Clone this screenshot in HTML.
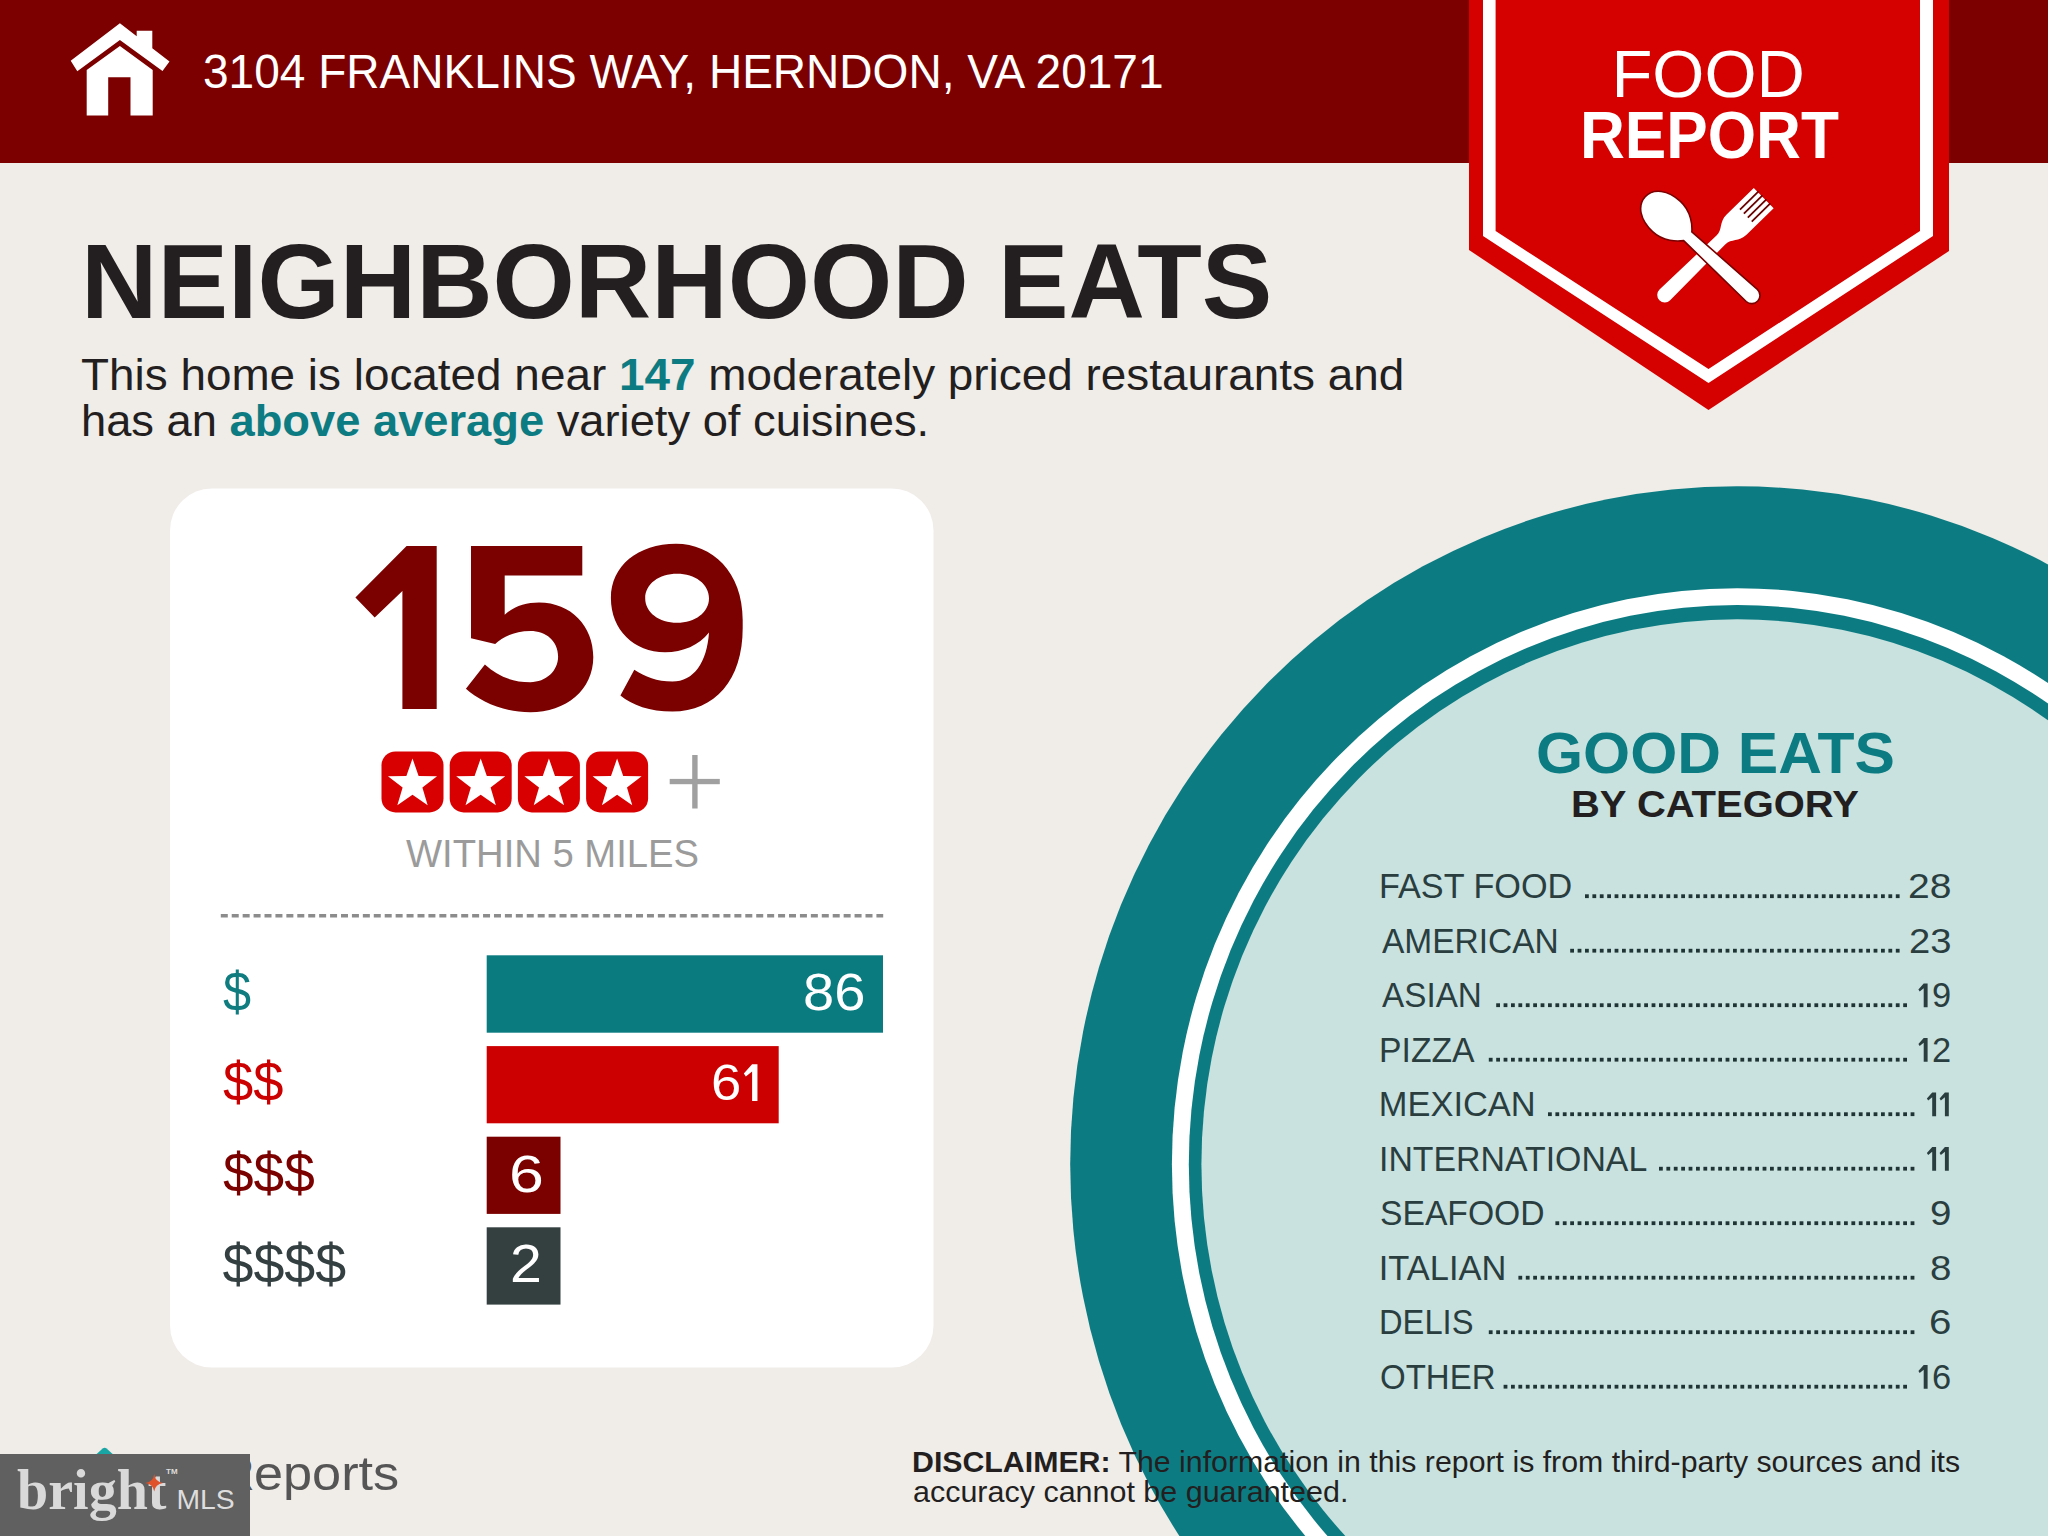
<!DOCTYPE html>
<html><head><meta charset="utf-8">
<style>
html,body{margin:0;padding:0;}
body{width:2048px;height:1536px;overflow:hidden;position:relative;background:#F0ECE8;font-family:"Liberation Sans",sans-serif;}
.t{position:absolute;white-space:nowrap;line-height:1;transform-origin:0 0;}
svg{position:absolute;left:0;top:0;}
</style></head><body>
<svg width="2048" height="1536" viewBox="0 0 2048 1536">
<rect x="0" y="0" width="2048" height="163" fill="#7D0000"/>
<ellipse cx="1737.2" cy="1164.3" rx="667" ry="678" fill="#0C7C82"/>
<ellipse cx="1737.2" cy="1164.3" rx="565.3" ry="576.1" fill="#FFFFFF"/>
<ellipse cx="1737.2" cy="1164.3" rx="548.4" ry="559.2" fill="#0C7C82"/>
<ellipse cx="1737.2" cy="1164.3" rx="535.8" ry="545" fill="#C9E2E0"/>
<rect x="170" y="488.4" width="763.5" height="879.2" rx="42" ry="42" fill="#FFFFFF"/>
<polygon points="1469,0 1949,0 1949,251 1708.5,410 1469,250" fill="#D50000"/>
<path fill="#FFFFFF" fill-rule="evenodd" d="M1483,0 L1933,0 L1933,236 L1708.5,383 L1483,236 Z M1495.6,0 L1920,0 L1920,231 L1708.5,369 L1495.6,231 Z"/>
<g fill="#FFFFFF"><polygon points="119.9,23.3 136.7,36.3 136.7,30.7 152.3,30.7 152.3,48.3 169.5,61.6 162.5,70.9 119.9,40 77.3,71.3 70.7,60.8"/><polygon points="119.9,46 152.7,70 152.7,115.5 130.5,115.5 130.5,77.2 108.2,77.2 108.2,115.5 86.7,115.5 86.7,70"/></g>
<g transform="translate(1659.4,300.2) rotate(-44.4)"><path fill="#FFFFFF" d="M0,0 A7.6,7.6 0 0 1 7.6,-7.6 L86,-6.2 C95,-6.2 97,-14.2 108,-14.2 L146,-14.2 L146,14.2 L108,14.2 C97,14.2 95,6.2 86,6.2 L7.6,7.6 A7.6,7.6 0 0 1 0,0 Z"/><g stroke="#6A0000" stroke-width="1.8"><line x1="121" y1="-8.4" x2="147" y2="-8.4"/><line x1="121" y1="-2.8" x2="147" y2="-2.8"/><line x1="121" y1="2.8" x2="147" y2="2.8"/><line x1="121" y1="8.4" x2="147" y2="8.4"/></g></g>
<g transform="translate(1666.5,216.5) rotate(42.8)"><path fill="#FFFFFF" stroke="#7A0000" stroke-width="1.6" d="M-29,0 C-29,-12 -17,-20.5 0,-20.5 C15,-20.5 25,-11 29,-6 L116.2,-8.2 A8.2,8.2 0 0 1 116.2,8.2 L29,6 C25,11 15,20.5 0,20.5 C-17,20.5 -29,12 -29,0 Z"/></g>
<rect x="381.5" y="751.4" width="62" height="61" rx="14" ry="14" fill="#D80000"/>
<polygon points="412.5,758.5 418.61,775.89 437.04,776.33 422.39,787.51 427.66,805.17 412.5,794.7 397.34,805.17 402.61,787.51 387.96,776.33 406.39,775.89" fill="#FFFFFF"/>
<rect x="449.7" y="751.4" width="62" height="61" rx="14" ry="14" fill="#D80000"/>
<polygon points="480.7,758.5 486.81,775.89 505.24,776.33 490.59,787.51 495.86,805.17 480.7,794.7 465.54,805.17 470.81,787.51 456.16,776.33 474.59,775.89" fill="#FFFFFF"/>
<rect x="517.9" y="751.4" width="62" height="61" rx="14" ry="14" fill="#D80000"/>
<polygon points="548.9,758.5 555.01,775.89 573.44,776.33 558.79,787.51 564.06,805.17 548.9,794.7 533.74,805.17 539.01,787.51 524.36,776.33 542.79,775.89" fill="#FFFFFF"/>
<rect x="586.1" y="751.4" width="62" height="61" rx="14" ry="14" fill="#D80000"/>
<polygon points="617.1,758.5 623.21,775.89 641.64,776.33 626.99,787.51 632.26,805.17 617.1,794.7 601.94,805.17 607.21,787.51 592.56,776.33 610.99,775.89" fill="#FFFFFF"/>
<rect x="669.7" y="778.9" width="50.1" height="5.3" fill="#A0A0A0"/>
<rect x="692.2" y="755" width="5.4" height="53.5" fill="#A0A0A0"/>
<line x1="220.8" y1="915.8" x2="883.2" y2="915.8" stroke="#8C8C8C" stroke-width="3.4" stroke-dasharray="7 3.927"/>
<rect x="486.7" y="955.3" width="396.3" height="77.4" fill="#0A7C80"/>
<rect x="486.7" y="1046.1" width="292" height="77.2" fill="#CC0000"/>
<rect x="486.7" y="1136.7" width="73.8" height="77.2" fill="#7B0000"/>
<rect x="486.7" y="1227.3" width="73.8" height="77.3" fill="#343F40"/>
<rect x="1585" y="894.3" width="3.8" height="3.8" fill="#1F3434"/>
<rect x="1592.4" y="894.3" width="3.8" height="3.8" fill="#1F3434"/>
<rect x="1599.8" y="894.3" width="3.8" height="3.8" fill="#1F3434"/>
<rect x="1607.2" y="894.3" width="3.8" height="3.8" fill="#1F3434"/>
<rect x="1614.6" y="894.3" width="3.8" height="3.8" fill="#1F3434"/>
<rect x="1622" y="894.3" width="3.8" height="3.8" fill="#1F3434"/>
<rect x="1629.4" y="894.3" width="3.8" height="3.8" fill="#1F3434"/>
<rect x="1636.8" y="894.3" width="3.8" height="3.8" fill="#1F3434"/>
<rect x="1644.2" y="894.3" width="3.8" height="3.8" fill="#1F3434"/>
<rect x="1651.6" y="894.3" width="3.8" height="3.8" fill="#1F3434"/>
<rect x="1659" y="894.3" width="3.8" height="3.8" fill="#1F3434"/>
<rect x="1666.4" y="894.3" width="3.8" height="3.8" fill="#1F3434"/>
<rect x="1673.8" y="894.3" width="3.8" height="3.8" fill="#1F3434"/>
<rect x="1681.2" y="894.3" width="3.8" height="3.8" fill="#1F3434"/>
<rect x="1688.6" y="894.3" width="3.8" height="3.8" fill="#1F3434"/>
<rect x="1696" y="894.3" width="3.8" height="3.8" fill="#1F3434"/>
<rect x="1703.4" y="894.3" width="3.8" height="3.8" fill="#1F3434"/>
<rect x="1710.8" y="894.3" width="3.8" height="3.8" fill="#1F3434"/>
<rect x="1718.2" y="894.3" width="3.8" height="3.8" fill="#1F3434"/>
<rect x="1725.6" y="894.3" width="3.8" height="3.8" fill="#1F3434"/>
<rect x="1733" y="894.3" width="3.8" height="3.8" fill="#1F3434"/>
<rect x="1740.4" y="894.3" width="3.8" height="3.8" fill="#1F3434"/>
<rect x="1747.8" y="894.3" width="3.8" height="3.8" fill="#1F3434"/>
<rect x="1755.2" y="894.3" width="3.8" height="3.8" fill="#1F3434"/>
<rect x="1762.6" y="894.3" width="3.8" height="3.8" fill="#1F3434"/>
<rect x="1770" y="894.3" width="3.8" height="3.8" fill="#1F3434"/>
<rect x="1777.4" y="894.3" width="3.8" height="3.8" fill="#1F3434"/>
<rect x="1784.8" y="894.3" width="3.8" height="3.8" fill="#1F3434"/>
<rect x="1792.2" y="894.3" width="3.8" height="3.8" fill="#1F3434"/>
<rect x="1799.6" y="894.3" width="3.8" height="3.8" fill="#1F3434"/>
<rect x="1807" y="894.3" width="3.8" height="3.8" fill="#1F3434"/>
<rect x="1814.4" y="894.3" width="3.8" height="3.8" fill="#1F3434"/>
<rect x="1821.8" y="894.3" width="3.8" height="3.8" fill="#1F3434"/>
<rect x="1829.2" y="894.3" width="3.8" height="3.8" fill="#1F3434"/>
<rect x="1836.6" y="894.3" width="3.8" height="3.8" fill="#1F3434"/>
<rect x="1844" y="894.3" width="3.8" height="3.8" fill="#1F3434"/>
<rect x="1851.4" y="894.3" width="3.8" height="3.8" fill="#1F3434"/>
<rect x="1858.8" y="894.3" width="3.8" height="3.8" fill="#1F3434"/>
<rect x="1866.2" y="894.3" width="3.8" height="3.8" fill="#1F3434"/>
<rect x="1873.6" y="894.3" width="3.8" height="3.8" fill="#1F3434"/>
<rect x="1881" y="894.3" width="3.8" height="3.8" fill="#1F3434"/>
<rect x="1888.4" y="894.3" width="3.8" height="3.8" fill="#1F3434"/>
<rect x="1895.8" y="894.3" width="3.8" height="3.8" fill="#1F3434"/>
<rect x="1570.2" y="948.8" width="3.8" height="3.8" fill="#1F3434"/>
<rect x="1577.6" y="948.8" width="3.8" height="3.8" fill="#1F3434"/>
<rect x="1585" y="948.8" width="3.8" height="3.8" fill="#1F3434"/>
<rect x="1592.4" y="948.8" width="3.8" height="3.8" fill="#1F3434"/>
<rect x="1599.8" y="948.8" width="3.8" height="3.8" fill="#1F3434"/>
<rect x="1607.2" y="948.8" width="3.8" height="3.8" fill="#1F3434"/>
<rect x="1614.6" y="948.8" width="3.8" height="3.8" fill="#1F3434"/>
<rect x="1622" y="948.8" width="3.8" height="3.8" fill="#1F3434"/>
<rect x="1629.4" y="948.8" width="3.8" height="3.8" fill="#1F3434"/>
<rect x="1636.8" y="948.8" width="3.8" height="3.8" fill="#1F3434"/>
<rect x="1644.2" y="948.8" width="3.8" height="3.8" fill="#1F3434"/>
<rect x="1651.6" y="948.8" width="3.8" height="3.8" fill="#1F3434"/>
<rect x="1659" y="948.8" width="3.8" height="3.8" fill="#1F3434"/>
<rect x="1666.4" y="948.8" width="3.8" height="3.8" fill="#1F3434"/>
<rect x="1673.8" y="948.8" width="3.8" height="3.8" fill="#1F3434"/>
<rect x="1681.2" y="948.8" width="3.8" height="3.8" fill="#1F3434"/>
<rect x="1688.6" y="948.8" width="3.8" height="3.8" fill="#1F3434"/>
<rect x="1696" y="948.8" width="3.8" height="3.8" fill="#1F3434"/>
<rect x="1703.4" y="948.8" width="3.8" height="3.8" fill="#1F3434"/>
<rect x="1710.8" y="948.8" width="3.8" height="3.8" fill="#1F3434"/>
<rect x="1718.2" y="948.8" width="3.8" height="3.8" fill="#1F3434"/>
<rect x="1725.6" y="948.8" width="3.8" height="3.8" fill="#1F3434"/>
<rect x="1733" y="948.8" width="3.8" height="3.8" fill="#1F3434"/>
<rect x="1740.4" y="948.8" width="3.8" height="3.8" fill="#1F3434"/>
<rect x="1747.8" y="948.8" width="3.8" height="3.8" fill="#1F3434"/>
<rect x="1755.2" y="948.8" width="3.8" height="3.8" fill="#1F3434"/>
<rect x="1762.6" y="948.8" width="3.8" height="3.8" fill="#1F3434"/>
<rect x="1770" y="948.8" width="3.8" height="3.8" fill="#1F3434"/>
<rect x="1777.4" y="948.8" width="3.8" height="3.8" fill="#1F3434"/>
<rect x="1784.8" y="948.8" width="3.8" height="3.8" fill="#1F3434"/>
<rect x="1792.2" y="948.8" width="3.8" height="3.8" fill="#1F3434"/>
<rect x="1799.6" y="948.8" width="3.8" height="3.8" fill="#1F3434"/>
<rect x="1807" y="948.8" width="3.8" height="3.8" fill="#1F3434"/>
<rect x="1814.4" y="948.8" width="3.8" height="3.8" fill="#1F3434"/>
<rect x="1821.8" y="948.8" width="3.8" height="3.8" fill="#1F3434"/>
<rect x="1829.2" y="948.8" width="3.8" height="3.8" fill="#1F3434"/>
<rect x="1836.6" y="948.8" width="3.8" height="3.8" fill="#1F3434"/>
<rect x="1844" y="948.8" width="3.8" height="3.8" fill="#1F3434"/>
<rect x="1851.4" y="948.8" width="3.8" height="3.8" fill="#1F3434"/>
<rect x="1858.8" y="948.8" width="3.8" height="3.8" fill="#1F3434"/>
<rect x="1866.2" y="948.8" width="3.8" height="3.8" fill="#1F3434"/>
<rect x="1873.6" y="948.8" width="3.8" height="3.8" fill="#1F3434"/>
<rect x="1881" y="948.8" width="3.8" height="3.8" fill="#1F3434"/>
<rect x="1888.4" y="948.8" width="3.8" height="3.8" fill="#1F3434"/>
<rect x="1895.8" y="948.8" width="3.8" height="3.8" fill="#1F3434"/>
<rect x="1496.2" y="1003.3" width="3.8" height="3.8" fill="#1F3434"/>
<rect x="1503.6" y="1003.3" width="3.8" height="3.8" fill="#1F3434"/>
<rect x="1511" y="1003.3" width="3.8" height="3.8" fill="#1F3434"/>
<rect x="1518.4" y="1003.3" width="3.8" height="3.8" fill="#1F3434"/>
<rect x="1525.8" y="1003.3" width="3.8" height="3.8" fill="#1F3434"/>
<rect x="1533.2" y="1003.3" width="3.8" height="3.8" fill="#1F3434"/>
<rect x="1540.6" y="1003.3" width="3.8" height="3.8" fill="#1F3434"/>
<rect x="1548" y="1003.3" width="3.8" height="3.8" fill="#1F3434"/>
<rect x="1555.4" y="1003.3" width="3.8" height="3.8" fill="#1F3434"/>
<rect x="1562.8" y="1003.3" width="3.8" height="3.8" fill="#1F3434"/>
<rect x="1570.2" y="1003.3" width="3.8" height="3.8" fill="#1F3434"/>
<rect x="1577.6" y="1003.3" width="3.8" height="3.8" fill="#1F3434"/>
<rect x="1585" y="1003.3" width="3.8" height="3.8" fill="#1F3434"/>
<rect x="1592.4" y="1003.3" width="3.8" height="3.8" fill="#1F3434"/>
<rect x="1599.8" y="1003.3" width="3.8" height="3.8" fill="#1F3434"/>
<rect x="1607.2" y="1003.3" width="3.8" height="3.8" fill="#1F3434"/>
<rect x="1614.6" y="1003.3" width="3.8" height="3.8" fill="#1F3434"/>
<rect x="1622" y="1003.3" width="3.8" height="3.8" fill="#1F3434"/>
<rect x="1629.4" y="1003.3" width="3.8" height="3.8" fill="#1F3434"/>
<rect x="1636.8" y="1003.3" width="3.8" height="3.8" fill="#1F3434"/>
<rect x="1644.2" y="1003.3" width="3.8" height="3.8" fill="#1F3434"/>
<rect x="1651.6" y="1003.3" width="3.8" height="3.8" fill="#1F3434"/>
<rect x="1659" y="1003.3" width="3.8" height="3.8" fill="#1F3434"/>
<rect x="1666.4" y="1003.3" width="3.8" height="3.8" fill="#1F3434"/>
<rect x="1673.8" y="1003.3" width="3.8" height="3.8" fill="#1F3434"/>
<rect x="1681.2" y="1003.3" width="3.8" height="3.8" fill="#1F3434"/>
<rect x="1688.6" y="1003.3" width="3.8" height="3.8" fill="#1F3434"/>
<rect x="1696" y="1003.3" width="3.8" height="3.8" fill="#1F3434"/>
<rect x="1703.4" y="1003.3" width="3.8" height="3.8" fill="#1F3434"/>
<rect x="1710.8" y="1003.3" width="3.8" height="3.8" fill="#1F3434"/>
<rect x="1718.2" y="1003.3" width="3.8" height="3.8" fill="#1F3434"/>
<rect x="1725.6" y="1003.3" width="3.8" height="3.8" fill="#1F3434"/>
<rect x="1733" y="1003.3" width="3.8" height="3.8" fill="#1F3434"/>
<rect x="1740.4" y="1003.3" width="3.8" height="3.8" fill="#1F3434"/>
<rect x="1747.8" y="1003.3" width="3.8" height="3.8" fill="#1F3434"/>
<rect x="1755.2" y="1003.3" width="3.8" height="3.8" fill="#1F3434"/>
<rect x="1762.6" y="1003.3" width="3.8" height="3.8" fill="#1F3434"/>
<rect x="1770" y="1003.3" width="3.8" height="3.8" fill="#1F3434"/>
<rect x="1777.4" y="1003.3" width="3.8" height="3.8" fill="#1F3434"/>
<rect x="1784.8" y="1003.3" width="3.8" height="3.8" fill="#1F3434"/>
<rect x="1792.2" y="1003.3" width="3.8" height="3.8" fill="#1F3434"/>
<rect x="1799.6" y="1003.3" width="3.8" height="3.8" fill="#1F3434"/>
<rect x="1807" y="1003.3" width="3.8" height="3.8" fill="#1F3434"/>
<rect x="1814.4" y="1003.3" width="3.8" height="3.8" fill="#1F3434"/>
<rect x="1821.8" y="1003.3" width="3.8" height="3.8" fill="#1F3434"/>
<rect x="1829.2" y="1003.3" width="3.8" height="3.8" fill="#1F3434"/>
<rect x="1836.6" y="1003.3" width="3.8" height="3.8" fill="#1F3434"/>
<rect x="1844" y="1003.3" width="3.8" height="3.8" fill="#1F3434"/>
<rect x="1851.4" y="1003.3" width="3.8" height="3.8" fill="#1F3434"/>
<rect x="1858.8" y="1003.3" width="3.8" height="3.8" fill="#1F3434"/>
<rect x="1866.2" y="1003.3" width="3.8" height="3.8" fill="#1F3434"/>
<rect x="1873.6" y="1003.3" width="3.8" height="3.8" fill="#1F3434"/>
<rect x="1881" y="1003.3" width="3.8" height="3.8" fill="#1F3434"/>
<rect x="1888.4" y="1003.3" width="3.8" height="3.8" fill="#1F3434"/>
<rect x="1895.8" y="1003.3" width="3.8" height="3.8" fill="#1F3434"/>
<rect x="1903.2" y="1003.3" width="3.8" height="3.8" fill="#1F3434"/>
<rect x="1488.8" y="1057.8" width="3.8" height="3.8" fill="#1F3434"/>
<rect x="1496.2" y="1057.8" width="3.8" height="3.8" fill="#1F3434"/>
<rect x="1503.6" y="1057.8" width="3.8" height="3.8" fill="#1F3434"/>
<rect x="1511" y="1057.8" width="3.8" height="3.8" fill="#1F3434"/>
<rect x="1518.4" y="1057.8" width="3.8" height="3.8" fill="#1F3434"/>
<rect x="1525.8" y="1057.8" width="3.8" height="3.8" fill="#1F3434"/>
<rect x="1533.2" y="1057.8" width="3.8" height="3.8" fill="#1F3434"/>
<rect x="1540.6" y="1057.8" width="3.8" height="3.8" fill="#1F3434"/>
<rect x="1548" y="1057.8" width="3.8" height="3.8" fill="#1F3434"/>
<rect x="1555.4" y="1057.8" width="3.8" height="3.8" fill="#1F3434"/>
<rect x="1562.8" y="1057.8" width="3.8" height="3.8" fill="#1F3434"/>
<rect x="1570.2" y="1057.8" width="3.8" height="3.8" fill="#1F3434"/>
<rect x="1577.6" y="1057.8" width="3.8" height="3.8" fill="#1F3434"/>
<rect x="1585" y="1057.8" width="3.8" height="3.8" fill="#1F3434"/>
<rect x="1592.4" y="1057.8" width="3.8" height="3.8" fill="#1F3434"/>
<rect x="1599.8" y="1057.8" width="3.8" height="3.8" fill="#1F3434"/>
<rect x="1607.2" y="1057.8" width="3.8" height="3.8" fill="#1F3434"/>
<rect x="1614.6" y="1057.8" width="3.8" height="3.8" fill="#1F3434"/>
<rect x="1622" y="1057.8" width="3.8" height="3.8" fill="#1F3434"/>
<rect x="1629.4" y="1057.8" width="3.8" height="3.8" fill="#1F3434"/>
<rect x="1636.8" y="1057.8" width="3.8" height="3.8" fill="#1F3434"/>
<rect x="1644.2" y="1057.8" width="3.8" height="3.8" fill="#1F3434"/>
<rect x="1651.6" y="1057.8" width="3.8" height="3.8" fill="#1F3434"/>
<rect x="1659" y="1057.8" width="3.8" height="3.8" fill="#1F3434"/>
<rect x="1666.4" y="1057.8" width="3.8" height="3.8" fill="#1F3434"/>
<rect x="1673.8" y="1057.8" width="3.8" height="3.8" fill="#1F3434"/>
<rect x="1681.2" y="1057.8" width="3.8" height="3.8" fill="#1F3434"/>
<rect x="1688.6" y="1057.8" width="3.8" height="3.8" fill="#1F3434"/>
<rect x="1696" y="1057.8" width="3.8" height="3.8" fill="#1F3434"/>
<rect x="1703.4" y="1057.8" width="3.8" height="3.8" fill="#1F3434"/>
<rect x="1710.8" y="1057.8" width="3.8" height="3.8" fill="#1F3434"/>
<rect x="1718.2" y="1057.8" width="3.8" height="3.8" fill="#1F3434"/>
<rect x="1725.6" y="1057.8" width="3.8" height="3.8" fill="#1F3434"/>
<rect x="1733" y="1057.8" width="3.8" height="3.8" fill="#1F3434"/>
<rect x="1740.4" y="1057.8" width="3.8" height="3.8" fill="#1F3434"/>
<rect x="1747.8" y="1057.8" width="3.8" height="3.8" fill="#1F3434"/>
<rect x="1755.2" y="1057.8" width="3.8" height="3.8" fill="#1F3434"/>
<rect x="1762.6" y="1057.8" width="3.8" height="3.8" fill="#1F3434"/>
<rect x="1770" y="1057.8" width="3.8" height="3.8" fill="#1F3434"/>
<rect x="1777.4" y="1057.8" width="3.8" height="3.8" fill="#1F3434"/>
<rect x="1784.8" y="1057.8" width="3.8" height="3.8" fill="#1F3434"/>
<rect x="1792.2" y="1057.8" width="3.8" height="3.8" fill="#1F3434"/>
<rect x="1799.6" y="1057.8" width="3.8" height="3.8" fill="#1F3434"/>
<rect x="1807" y="1057.8" width="3.8" height="3.8" fill="#1F3434"/>
<rect x="1814.4" y="1057.8" width="3.8" height="3.8" fill="#1F3434"/>
<rect x="1821.8" y="1057.8" width="3.8" height="3.8" fill="#1F3434"/>
<rect x="1829.2" y="1057.8" width="3.8" height="3.8" fill="#1F3434"/>
<rect x="1836.6" y="1057.8" width="3.8" height="3.8" fill="#1F3434"/>
<rect x="1844" y="1057.8" width="3.8" height="3.8" fill="#1F3434"/>
<rect x="1851.4" y="1057.8" width="3.8" height="3.8" fill="#1F3434"/>
<rect x="1858.8" y="1057.8" width="3.8" height="3.8" fill="#1F3434"/>
<rect x="1866.2" y="1057.8" width="3.8" height="3.8" fill="#1F3434"/>
<rect x="1873.6" y="1057.8" width="3.8" height="3.8" fill="#1F3434"/>
<rect x="1881" y="1057.8" width="3.8" height="3.8" fill="#1F3434"/>
<rect x="1888.4" y="1057.8" width="3.8" height="3.8" fill="#1F3434"/>
<rect x="1895.8" y="1057.8" width="3.8" height="3.8" fill="#1F3434"/>
<rect x="1903.2" y="1057.8" width="3.8" height="3.8" fill="#1F3434"/>
<rect x="1548" y="1112.3" width="3.8" height="3.8" fill="#1F3434"/>
<rect x="1555.4" y="1112.3" width="3.8" height="3.8" fill="#1F3434"/>
<rect x="1562.8" y="1112.3" width="3.8" height="3.8" fill="#1F3434"/>
<rect x="1570.2" y="1112.3" width="3.8" height="3.8" fill="#1F3434"/>
<rect x="1577.6" y="1112.3" width="3.8" height="3.8" fill="#1F3434"/>
<rect x="1585" y="1112.3" width="3.8" height="3.8" fill="#1F3434"/>
<rect x="1592.4" y="1112.3" width="3.8" height="3.8" fill="#1F3434"/>
<rect x="1599.8" y="1112.3" width="3.8" height="3.8" fill="#1F3434"/>
<rect x="1607.2" y="1112.3" width="3.8" height="3.8" fill="#1F3434"/>
<rect x="1614.6" y="1112.3" width="3.8" height="3.8" fill="#1F3434"/>
<rect x="1622" y="1112.3" width="3.8" height="3.8" fill="#1F3434"/>
<rect x="1629.4" y="1112.3" width="3.8" height="3.8" fill="#1F3434"/>
<rect x="1636.8" y="1112.3" width="3.8" height="3.8" fill="#1F3434"/>
<rect x="1644.2" y="1112.3" width="3.8" height="3.8" fill="#1F3434"/>
<rect x="1651.6" y="1112.3" width="3.8" height="3.8" fill="#1F3434"/>
<rect x="1659" y="1112.3" width="3.8" height="3.8" fill="#1F3434"/>
<rect x="1666.4" y="1112.3" width="3.8" height="3.8" fill="#1F3434"/>
<rect x="1673.8" y="1112.3" width="3.8" height="3.8" fill="#1F3434"/>
<rect x="1681.2" y="1112.3" width="3.8" height="3.8" fill="#1F3434"/>
<rect x="1688.6" y="1112.3" width="3.8" height="3.8" fill="#1F3434"/>
<rect x="1696" y="1112.3" width="3.8" height="3.8" fill="#1F3434"/>
<rect x="1703.4" y="1112.3" width="3.8" height="3.8" fill="#1F3434"/>
<rect x="1710.8" y="1112.3" width="3.8" height="3.8" fill="#1F3434"/>
<rect x="1718.2" y="1112.3" width="3.8" height="3.8" fill="#1F3434"/>
<rect x="1725.6" y="1112.3" width="3.8" height="3.8" fill="#1F3434"/>
<rect x="1733" y="1112.3" width="3.8" height="3.8" fill="#1F3434"/>
<rect x="1740.4" y="1112.3" width="3.8" height="3.8" fill="#1F3434"/>
<rect x="1747.8" y="1112.3" width="3.8" height="3.8" fill="#1F3434"/>
<rect x="1755.2" y="1112.3" width="3.8" height="3.8" fill="#1F3434"/>
<rect x="1762.6" y="1112.3" width="3.8" height="3.8" fill="#1F3434"/>
<rect x="1770" y="1112.3" width="3.8" height="3.8" fill="#1F3434"/>
<rect x="1777.4" y="1112.3" width="3.8" height="3.8" fill="#1F3434"/>
<rect x="1784.8" y="1112.3" width="3.8" height="3.8" fill="#1F3434"/>
<rect x="1792.2" y="1112.3" width="3.8" height="3.8" fill="#1F3434"/>
<rect x="1799.6" y="1112.3" width="3.8" height="3.8" fill="#1F3434"/>
<rect x="1807" y="1112.3" width="3.8" height="3.8" fill="#1F3434"/>
<rect x="1814.4" y="1112.3" width="3.8" height="3.8" fill="#1F3434"/>
<rect x="1821.8" y="1112.3" width="3.8" height="3.8" fill="#1F3434"/>
<rect x="1829.2" y="1112.3" width="3.8" height="3.8" fill="#1F3434"/>
<rect x="1836.6" y="1112.3" width="3.8" height="3.8" fill="#1F3434"/>
<rect x="1844" y="1112.3" width="3.8" height="3.8" fill="#1F3434"/>
<rect x="1851.4" y="1112.3" width="3.8" height="3.8" fill="#1F3434"/>
<rect x="1858.8" y="1112.3" width="3.8" height="3.8" fill="#1F3434"/>
<rect x="1866.2" y="1112.3" width="3.8" height="3.8" fill="#1F3434"/>
<rect x="1873.6" y="1112.3" width="3.8" height="3.8" fill="#1F3434"/>
<rect x="1881" y="1112.3" width="3.8" height="3.8" fill="#1F3434"/>
<rect x="1888.4" y="1112.3" width="3.8" height="3.8" fill="#1F3434"/>
<rect x="1895.8" y="1112.3" width="3.8" height="3.8" fill="#1F3434"/>
<rect x="1903.2" y="1112.3" width="3.8" height="3.8" fill="#1F3434"/>
<rect x="1910.6" y="1112.3" width="3.8" height="3.8" fill="#1F3434"/>
<rect x="1659" y="1166.8" width="3.8" height="3.8" fill="#1F3434"/>
<rect x="1666.4" y="1166.8" width="3.8" height="3.8" fill="#1F3434"/>
<rect x="1673.8" y="1166.8" width="3.8" height="3.8" fill="#1F3434"/>
<rect x="1681.2" y="1166.8" width="3.8" height="3.8" fill="#1F3434"/>
<rect x="1688.6" y="1166.8" width="3.8" height="3.8" fill="#1F3434"/>
<rect x="1696" y="1166.8" width="3.8" height="3.8" fill="#1F3434"/>
<rect x="1703.4" y="1166.8" width="3.8" height="3.8" fill="#1F3434"/>
<rect x="1710.8" y="1166.8" width="3.8" height="3.8" fill="#1F3434"/>
<rect x="1718.2" y="1166.8" width="3.8" height="3.8" fill="#1F3434"/>
<rect x="1725.6" y="1166.8" width="3.8" height="3.8" fill="#1F3434"/>
<rect x="1733" y="1166.8" width="3.8" height="3.8" fill="#1F3434"/>
<rect x="1740.4" y="1166.8" width="3.8" height="3.8" fill="#1F3434"/>
<rect x="1747.8" y="1166.8" width="3.8" height="3.8" fill="#1F3434"/>
<rect x="1755.2" y="1166.8" width="3.8" height="3.8" fill="#1F3434"/>
<rect x="1762.6" y="1166.8" width="3.8" height="3.8" fill="#1F3434"/>
<rect x="1770" y="1166.8" width="3.8" height="3.8" fill="#1F3434"/>
<rect x="1777.4" y="1166.8" width="3.8" height="3.8" fill="#1F3434"/>
<rect x="1784.8" y="1166.8" width="3.8" height="3.8" fill="#1F3434"/>
<rect x="1792.2" y="1166.8" width="3.8" height="3.8" fill="#1F3434"/>
<rect x="1799.6" y="1166.8" width="3.8" height="3.8" fill="#1F3434"/>
<rect x="1807" y="1166.8" width="3.8" height="3.8" fill="#1F3434"/>
<rect x="1814.4" y="1166.8" width="3.8" height="3.8" fill="#1F3434"/>
<rect x="1821.8" y="1166.8" width="3.8" height="3.8" fill="#1F3434"/>
<rect x="1829.2" y="1166.8" width="3.8" height="3.8" fill="#1F3434"/>
<rect x="1836.6" y="1166.8" width="3.8" height="3.8" fill="#1F3434"/>
<rect x="1844" y="1166.8" width="3.8" height="3.8" fill="#1F3434"/>
<rect x="1851.4" y="1166.8" width="3.8" height="3.8" fill="#1F3434"/>
<rect x="1858.8" y="1166.8" width="3.8" height="3.8" fill="#1F3434"/>
<rect x="1866.2" y="1166.8" width="3.8" height="3.8" fill="#1F3434"/>
<rect x="1873.6" y="1166.8" width="3.8" height="3.8" fill="#1F3434"/>
<rect x="1881" y="1166.8" width="3.8" height="3.8" fill="#1F3434"/>
<rect x="1888.4" y="1166.8" width="3.8" height="3.8" fill="#1F3434"/>
<rect x="1895.8" y="1166.8" width="3.8" height="3.8" fill="#1F3434"/>
<rect x="1903.2" y="1166.8" width="3.8" height="3.8" fill="#1F3434"/>
<rect x="1910.6" y="1166.8" width="3.8" height="3.8" fill="#1F3434"/>
<rect x="1555.4" y="1221.3" width="3.8" height="3.8" fill="#1F3434"/>
<rect x="1562.8" y="1221.3" width="3.8" height="3.8" fill="#1F3434"/>
<rect x="1570.2" y="1221.3" width="3.8" height="3.8" fill="#1F3434"/>
<rect x="1577.6" y="1221.3" width="3.8" height="3.8" fill="#1F3434"/>
<rect x="1585" y="1221.3" width="3.8" height="3.8" fill="#1F3434"/>
<rect x="1592.4" y="1221.3" width="3.8" height="3.8" fill="#1F3434"/>
<rect x="1599.8" y="1221.3" width="3.8" height="3.8" fill="#1F3434"/>
<rect x="1607.2" y="1221.3" width="3.8" height="3.8" fill="#1F3434"/>
<rect x="1614.6" y="1221.3" width="3.8" height="3.8" fill="#1F3434"/>
<rect x="1622" y="1221.3" width="3.8" height="3.8" fill="#1F3434"/>
<rect x="1629.4" y="1221.3" width="3.8" height="3.8" fill="#1F3434"/>
<rect x="1636.8" y="1221.3" width="3.8" height="3.8" fill="#1F3434"/>
<rect x="1644.2" y="1221.3" width="3.8" height="3.8" fill="#1F3434"/>
<rect x="1651.6" y="1221.3" width="3.8" height="3.8" fill="#1F3434"/>
<rect x="1659" y="1221.3" width="3.8" height="3.8" fill="#1F3434"/>
<rect x="1666.4" y="1221.3" width="3.8" height="3.8" fill="#1F3434"/>
<rect x="1673.8" y="1221.3" width="3.8" height="3.8" fill="#1F3434"/>
<rect x="1681.2" y="1221.3" width="3.8" height="3.8" fill="#1F3434"/>
<rect x="1688.6" y="1221.3" width="3.8" height="3.8" fill="#1F3434"/>
<rect x="1696" y="1221.3" width="3.8" height="3.8" fill="#1F3434"/>
<rect x="1703.4" y="1221.3" width="3.8" height="3.8" fill="#1F3434"/>
<rect x="1710.8" y="1221.3" width="3.8" height="3.8" fill="#1F3434"/>
<rect x="1718.2" y="1221.3" width="3.8" height="3.8" fill="#1F3434"/>
<rect x="1725.6" y="1221.3" width="3.8" height="3.8" fill="#1F3434"/>
<rect x="1733" y="1221.3" width="3.8" height="3.8" fill="#1F3434"/>
<rect x="1740.4" y="1221.3" width="3.8" height="3.8" fill="#1F3434"/>
<rect x="1747.8" y="1221.3" width="3.8" height="3.8" fill="#1F3434"/>
<rect x="1755.2" y="1221.3" width="3.8" height="3.8" fill="#1F3434"/>
<rect x="1762.6" y="1221.3" width="3.8" height="3.8" fill="#1F3434"/>
<rect x="1770" y="1221.3" width="3.8" height="3.8" fill="#1F3434"/>
<rect x="1777.4" y="1221.3" width="3.8" height="3.8" fill="#1F3434"/>
<rect x="1784.8" y="1221.3" width="3.8" height="3.8" fill="#1F3434"/>
<rect x="1792.2" y="1221.3" width="3.8" height="3.8" fill="#1F3434"/>
<rect x="1799.6" y="1221.3" width="3.8" height="3.8" fill="#1F3434"/>
<rect x="1807" y="1221.3" width="3.8" height="3.8" fill="#1F3434"/>
<rect x="1814.4" y="1221.3" width="3.8" height="3.8" fill="#1F3434"/>
<rect x="1821.8" y="1221.3" width="3.8" height="3.8" fill="#1F3434"/>
<rect x="1829.2" y="1221.3" width="3.8" height="3.8" fill="#1F3434"/>
<rect x="1836.6" y="1221.3" width="3.8" height="3.8" fill="#1F3434"/>
<rect x="1844" y="1221.3" width="3.8" height="3.8" fill="#1F3434"/>
<rect x="1851.4" y="1221.3" width="3.8" height="3.8" fill="#1F3434"/>
<rect x="1858.8" y="1221.3" width="3.8" height="3.8" fill="#1F3434"/>
<rect x="1866.2" y="1221.3" width="3.8" height="3.8" fill="#1F3434"/>
<rect x="1873.6" y="1221.3" width="3.8" height="3.8" fill="#1F3434"/>
<rect x="1881" y="1221.3" width="3.8" height="3.8" fill="#1F3434"/>
<rect x="1888.4" y="1221.3" width="3.8" height="3.8" fill="#1F3434"/>
<rect x="1895.8" y="1221.3" width="3.8" height="3.8" fill="#1F3434"/>
<rect x="1903.2" y="1221.3" width="3.8" height="3.8" fill="#1F3434"/>
<rect x="1910.6" y="1221.3" width="3.8" height="3.8" fill="#1F3434"/>
<rect x="1518.4" y="1275.8" width="3.8" height="3.8" fill="#1F3434"/>
<rect x="1525.8" y="1275.8" width="3.8" height="3.8" fill="#1F3434"/>
<rect x="1533.2" y="1275.8" width="3.8" height="3.8" fill="#1F3434"/>
<rect x="1540.6" y="1275.8" width="3.8" height="3.8" fill="#1F3434"/>
<rect x="1548" y="1275.8" width="3.8" height="3.8" fill="#1F3434"/>
<rect x="1555.4" y="1275.8" width="3.8" height="3.8" fill="#1F3434"/>
<rect x="1562.8" y="1275.8" width="3.8" height="3.8" fill="#1F3434"/>
<rect x="1570.2" y="1275.8" width="3.8" height="3.8" fill="#1F3434"/>
<rect x="1577.6" y="1275.8" width="3.8" height="3.8" fill="#1F3434"/>
<rect x="1585" y="1275.8" width="3.8" height="3.8" fill="#1F3434"/>
<rect x="1592.4" y="1275.8" width="3.8" height="3.8" fill="#1F3434"/>
<rect x="1599.8" y="1275.8" width="3.8" height="3.8" fill="#1F3434"/>
<rect x="1607.2" y="1275.8" width="3.8" height="3.8" fill="#1F3434"/>
<rect x="1614.6" y="1275.8" width="3.8" height="3.8" fill="#1F3434"/>
<rect x="1622" y="1275.8" width="3.8" height="3.8" fill="#1F3434"/>
<rect x="1629.4" y="1275.8" width="3.8" height="3.8" fill="#1F3434"/>
<rect x="1636.8" y="1275.8" width="3.8" height="3.8" fill="#1F3434"/>
<rect x="1644.2" y="1275.8" width="3.8" height="3.8" fill="#1F3434"/>
<rect x="1651.6" y="1275.8" width="3.8" height="3.8" fill="#1F3434"/>
<rect x="1659" y="1275.8" width="3.8" height="3.8" fill="#1F3434"/>
<rect x="1666.4" y="1275.8" width="3.8" height="3.8" fill="#1F3434"/>
<rect x="1673.8" y="1275.8" width="3.8" height="3.8" fill="#1F3434"/>
<rect x="1681.2" y="1275.8" width="3.8" height="3.8" fill="#1F3434"/>
<rect x="1688.6" y="1275.8" width="3.8" height="3.8" fill="#1F3434"/>
<rect x="1696" y="1275.8" width="3.8" height="3.8" fill="#1F3434"/>
<rect x="1703.4" y="1275.8" width="3.8" height="3.8" fill="#1F3434"/>
<rect x="1710.8" y="1275.8" width="3.8" height="3.8" fill="#1F3434"/>
<rect x="1718.2" y="1275.8" width="3.8" height="3.8" fill="#1F3434"/>
<rect x="1725.6" y="1275.8" width="3.8" height="3.8" fill="#1F3434"/>
<rect x="1733" y="1275.8" width="3.8" height="3.8" fill="#1F3434"/>
<rect x="1740.4" y="1275.8" width="3.8" height="3.8" fill="#1F3434"/>
<rect x="1747.8" y="1275.8" width="3.8" height="3.8" fill="#1F3434"/>
<rect x="1755.2" y="1275.8" width="3.8" height="3.8" fill="#1F3434"/>
<rect x="1762.6" y="1275.8" width="3.8" height="3.8" fill="#1F3434"/>
<rect x="1770" y="1275.8" width="3.8" height="3.8" fill="#1F3434"/>
<rect x="1777.4" y="1275.8" width="3.8" height="3.8" fill="#1F3434"/>
<rect x="1784.8" y="1275.8" width="3.8" height="3.8" fill="#1F3434"/>
<rect x="1792.2" y="1275.8" width="3.8" height="3.8" fill="#1F3434"/>
<rect x="1799.6" y="1275.8" width="3.8" height="3.8" fill="#1F3434"/>
<rect x="1807" y="1275.8" width="3.8" height="3.8" fill="#1F3434"/>
<rect x="1814.4" y="1275.8" width="3.8" height="3.8" fill="#1F3434"/>
<rect x="1821.8" y="1275.8" width="3.8" height="3.8" fill="#1F3434"/>
<rect x="1829.2" y="1275.8" width="3.8" height="3.8" fill="#1F3434"/>
<rect x="1836.6" y="1275.8" width="3.8" height="3.8" fill="#1F3434"/>
<rect x="1844" y="1275.8" width="3.8" height="3.8" fill="#1F3434"/>
<rect x="1851.4" y="1275.8" width="3.8" height="3.8" fill="#1F3434"/>
<rect x="1858.8" y="1275.8" width="3.8" height="3.8" fill="#1F3434"/>
<rect x="1866.2" y="1275.8" width="3.8" height="3.8" fill="#1F3434"/>
<rect x="1873.6" y="1275.8" width="3.8" height="3.8" fill="#1F3434"/>
<rect x="1881" y="1275.8" width="3.8" height="3.8" fill="#1F3434"/>
<rect x="1888.4" y="1275.8" width="3.8" height="3.8" fill="#1F3434"/>
<rect x="1895.8" y="1275.8" width="3.8" height="3.8" fill="#1F3434"/>
<rect x="1903.2" y="1275.8" width="3.8" height="3.8" fill="#1F3434"/>
<rect x="1910.6" y="1275.8" width="3.8" height="3.8" fill="#1F3434"/>
<rect x="1488.8" y="1330.3" width="3.8" height="3.8" fill="#1F3434"/>
<rect x="1496.2" y="1330.3" width="3.8" height="3.8" fill="#1F3434"/>
<rect x="1503.6" y="1330.3" width="3.8" height="3.8" fill="#1F3434"/>
<rect x="1511" y="1330.3" width="3.8" height="3.8" fill="#1F3434"/>
<rect x="1518.4" y="1330.3" width="3.8" height="3.8" fill="#1F3434"/>
<rect x="1525.8" y="1330.3" width="3.8" height="3.8" fill="#1F3434"/>
<rect x="1533.2" y="1330.3" width="3.8" height="3.8" fill="#1F3434"/>
<rect x="1540.6" y="1330.3" width="3.8" height="3.8" fill="#1F3434"/>
<rect x="1548" y="1330.3" width="3.8" height="3.8" fill="#1F3434"/>
<rect x="1555.4" y="1330.3" width="3.8" height="3.8" fill="#1F3434"/>
<rect x="1562.8" y="1330.3" width="3.8" height="3.8" fill="#1F3434"/>
<rect x="1570.2" y="1330.3" width="3.8" height="3.8" fill="#1F3434"/>
<rect x="1577.6" y="1330.3" width="3.8" height="3.8" fill="#1F3434"/>
<rect x="1585" y="1330.3" width="3.8" height="3.8" fill="#1F3434"/>
<rect x="1592.4" y="1330.3" width="3.8" height="3.8" fill="#1F3434"/>
<rect x="1599.8" y="1330.3" width="3.8" height="3.8" fill="#1F3434"/>
<rect x="1607.2" y="1330.3" width="3.8" height="3.8" fill="#1F3434"/>
<rect x="1614.6" y="1330.3" width="3.8" height="3.8" fill="#1F3434"/>
<rect x="1622" y="1330.3" width="3.8" height="3.8" fill="#1F3434"/>
<rect x="1629.4" y="1330.3" width="3.8" height="3.8" fill="#1F3434"/>
<rect x="1636.8" y="1330.3" width="3.8" height="3.8" fill="#1F3434"/>
<rect x="1644.2" y="1330.3" width="3.8" height="3.8" fill="#1F3434"/>
<rect x="1651.6" y="1330.3" width="3.8" height="3.8" fill="#1F3434"/>
<rect x="1659" y="1330.3" width="3.8" height="3.8" fill="#1F3434"/>
<rect x="1666.4" y="1330.3" width="3.8" height="3.8" fill="#1F3434"/>
<rect x="1673.8" y="1330.3" width="3.8" height="3.8" fill="#1F3434"/>
<rect x="1681.2" y="1330.3" width="3.8" height="3.8" fill="#1F3434"/>
<rect x="1688.6" y="1330.3" width="3.8" height="3.8" fill="#1F3434"/>
<rect x="1696" y="1330.3" width="3.8" height="3.8" fill="#1F3434"/>
<rect x="1703.4" y="1330.3" width="3.8" height="3.8" fill="#1F3434"/>
<rect x="1710.8" y="1330.3" width="3.8" height="3.8" fill="#1F3434"/>
<rect x="1718.2" y="1330.3" width="3.8" height="3.8" fill="#1F3434"/>
<rect x="1725.6" y="1330.3" width="3.8" height="3.8" fill="#1F3434"/>
<rect x="1733" y="1330.3" width="3.8" height="3.8" fill="#1F3434"/>
<rect x="1740.4" y="1330.3" width="3.8" height="3.8" fill="#1F3434"/>
<rect x="1747.8" y="1330.3" width="3.8" height="3.8" fill="#1F3434"/>
<rect x="1755.2" y="1330.3" width="3.8" height="3.8" fill="#1F3434"/>
<rect x="1762.6" y="1330.3" width="3.8" height="3.8" fill="#1F3434"/>
<rect x="1770" y="1330.3" width="3.8" height="3.8" fill="#1F3434"/>
<rect x="1777.4" y="1330.3" width="3.8" height="3.8" fill="#1F3434"/>
<rect x="1784.8" y="1330.3" width="3.8" height="3.8" fill="#1F3434"/>
<rect x="1792.2" y="1330.3" width="3.8" height="3.8" fill="#1F3434"/>
<rect x="1799.6" y="1330.3" width="3.8" height="3.8" fill="#1F3434"/>
<rect x="1807" y="1330.3" width="3.8" height="3.8" fill="#1F3434"/>
<rect x="1814.4" y="1330.3" width="3.8" height="3.8" fill="#1F3434"/>
<rect x="1821.8" y="1330.3" width="3.8" height="3.8" fill="#1F3434"/>
<rect x="1829.2" y="1330.3" width="3.8" height="3.8" fill="#1F3434"/>
<rect x="1836.6" y="1330.3" width="3.8" height="3.8" fill="#1F3434"/>
<rect x="1844" y="1330.3" width="3.8" height="3.8" fill="#1F3434"/>
<rect x="1851.4" y="1330.3" width="3.8" height="3.8" fill="#1F3434"/>
<rect x="1858.8" y="1330.3" width="3.8" height="3.8" fill="#1F3434"/>
<rect x="1866.2" y="1330.3" width="3.8" height="3.8" fill="#1F3434"/>
<rect x="1873.6" y="1330.3" width="3.8" height="3.8" fill="#1F3434"/>
<rect x="1881" y="1330.3" width="3.8" height="3.8" fill="#1F3434"/>
<rect x="1888.4" y="1330.3" width="3.8" height="3.8" fill="#1F3434"/>
<rect x="1895.8" y="1330.3" width="3.8" height="3.8" fill="#1F3434"/>
<rect x="1903.2" y="1330.3" width="3.8" height="3.8" fill="#1F3434"/>
<rect x="1910.6" y="1330.3" width="3.8" height="3.8" fill="#1F3434"/>
<rect x="1503.6" y="1384.8" width="3.8" height="3.8" fill="#1F3434"/>
<rect x="1511" y="1384.8" width="3.8" height="3.8" fill="#1F3434"/>
<rect x="1518.4" y="1384.8" width="3.8" height="3.8" fill="#1F3434"/>
<rect x="1525.8" y="1384.8" width="3.8" height="3.8" fill="#1F3434"/>
<rect x="1533.2" y="1384.8" width="3.8" height="3.8" fill="#1F3434"/>
<rect x="1540.6" y="1384.8" width="3.8" height="3.8" fill="#1F3434"/>
<rect x="1548" y="1384.8" width="3.8" height="3.8" fill="#1F3434"/>
<rect x="1555.4" y="1384.8" width="3.8" height="3.8" fill="#1F3434"/>
<rect x="1562.8" y="1384.8" width="3.8" height="3.8" fill="#1F3434"/>
<rect x="1570.2" y="1384.8" width="3.8" height="3.8" fill="#1F3434"/>
<rect x="1577.6" y="1384.8" width="3.8" height="3.8" fill="#1F3434"/>
<rect x="1585" y="1384.8" width="3.8" height="3.8" fill="#1F3434"/>
<rect x="1592.4" y="1384.8" width="3.8" height="3.8" fill="#1F3434"/>
<rect x="1599.8" y="1384.8" width="3.8" height="3.8" fill="#1F3434"/>
<rect x="1607.2" y="1384.8" width="3.8" height="3.8" fill="#1F3434"/>
<rect x="1614.6" y="1384.8" width="3.8" height="3.8" fill="#1F3434"/>
<rect x="1622" y="1384.8" width="3.8" height="3.8" fill="#1F3434"/>
<rect x="1629.4" y="1384.8" width="3.8" height="3.8" fill="#1F3434"/>
<rect x="1636.8" y="1384.8" width="3.8" height="3.8" fill="#1F3434"/>
<rect x="1644.2" y="1384.8" width="3.8" height="3.8" fill="#1F3434"/>
<rect x="1651.6" y="1384.8" width="3.8" height="3.8" fill="#1F3434"/>
<rect x="1659" y="1384.8" width="3.8" height="3.8" fill="#1F3434"/>
<rect x="1666.4" y="1384.8" width="3.8" height="3.8" fill="#1F3434"/>
<rect x="1673.8" y="1384.8" width="3.8" height="3.8" fill="#1F3434"/>
<rect x="1681.2" y="1384.8" width="3.8" height="3.8" fill="#1F3434"/>
<rect x="1688.6" y="1384.8" width="3.8" height="3.8" fill="#1F3434"/>
<rect x="1696" y="1384.8" width="3.8" height="3.8" fill="#1F3434"/>
<rect x="1703.4" y="1384.8" width="3.8" height="3.8" fill="#1F3434"/>
<rect x="1710.8" y="1384.8" width="3.8" height="3.8" fill="#1F3434"/>
<rect x="1718.2" y="1384.8" width="3.8" height="3.8" fill="#1F3434"/>
<rect x="1725.6" y="1384.8" width="3.8" height="3.8" fill="#1F3434"/>
<rect x="1733" y="1384.8" width="3.8" height="3.8" fill="#1F3434"/>
<rect x="1740.4" y="1384.8" width="3.8" height="3.8" fill="#1F3434"/>
<rect x="1747.8" y="1384.8" width="3.8" height="3.8" fill="#1F3434"/>
<rect x="1755.2" y="1384.8" width="3.8" height="3.8" fill="#1F3434"/>
<rect x="1762.6" y="1384.8" width="3.8" height="3.8" fill="#1F3434"/>
<rect x="1770" y="1384.8" width="3.8" height="3.8" fill="#1F3434"/>
<rect x="1777.4" y="1384.8" width="3.8" height="3.8" fill="#1F3434"/>
<rect x="1784.8" y="1384.8" width="3.8" height="3.8" fill="#1F3434"/>
<rect x="1792.2" y="1384.8" width="3.8" height="3.8" fill="#1F3434"/>
<rect x="1799.6" y="1384.8" width="3.8" height="3.8" fill="#1F3434"/>
<rect x="1807" y="1384.8" width="3.8" height="3.8" fill="#1F3434"/>
<rect x="1814.4" y="1384.8" width="3.8" height="3.8" fill="#1F3434"/>
<rect x="1821.8" y="1384.8" width="3.8" height="3.8" fill="#1F3434"/>
<rect x="1829.2" y="1384.8" width="3.8" height="3.8" fill="#1F3434"/>
<rect x="1836.6" y="1384.8" width="3.8" height="3.8" fill="#1F3434"/>
<rect x="1844" y="1384.8" width="3.8" height="3.8" fill="#1F3434"/>
<rect x="1851.4" y="1384.8" width="3.8" height="3.8" fill="#1F3434"/>
<rect x="1858.8" y="1384.8" width="3.8" height="3.8" fill="#1F3434"/>
<rect x="1866.2" y="1384.8" width="3.8" height="3.8" fill="#1F3434"/>
<rect x="1873.6" y="1384.8" width="3.8" height="3.8" fill="#1F3434"/>
<rect x="1881" y="1384.8" width="3.8" height="3.8" fill="#1F3434"/>
<rect x="1888.4" y="1384.8" width="3.8" height="3.8" fill="#1F3434"/>
<rect x="1895.8" y="1384.8" width="3.8" height="3.8" fill="#1F3434"/>
<rect x="1903.2" y="1384.8" width="3.8" height="3.8" fill="#1F3434"/>
<g fill="#7B0000"><polygon points="406.6,546.1 436.7,546.1 436.7,709 402.4,709 402.4,591 374.7,617.5 355.4,597.6"/><path d="M471,546.1 L582.3,546.1 L582.3,575.6 L504.7,575.6 L504.7,614.8 C514,606 526,602.4 539,602.4 C571,602.4 593.3,626 593.3,657 C593.3,690 566,712.2 530.3,712.2 C502,712.2 480,701 465.9,688.8 L484.9,664.6 C497,676 512,682.2 530.3,682.2 C546,682.2 558.1,671 558.1,656.6 C558.1,641 546,631 530.3,631 C515,631 502,637 495.2,644.1 L471,638.3 Z"/><path fill-rule="evenodd" d="M676,543.8 C712,543.8 742.7,572 742.7,620 L742.7,628 C742.7,680 715,711.5 672.4,711.5 C650,711.5 632,705 620.4,695.4 L634.3,669.8 C645,677 657,681.5 672.4,681.5 C694,681.5 707,662 709,632.4 C699,645 683,652.2 665,652.2 C634,652.2 610.9,630 610.9,598 C610.9,566 638,543.8 676,543.8 Z M677.1,573.8 C695,573.8 709,584 709,598.3 C709,612.6 695,622.8 677.1,622.8 C659,622.8 645.2,612.6 645.2,598.3 C645.2,584 659,573.8 677.1,573.8 Z"/></g>
<path d="M94.5,1456 L102.6,1448.6 Q104.6,1446.8 106.6,1448.6 L114.8,1456 Z" fill="#1AA5A5"/>
<rect x="0" y="1454" width="249.8" height="82" fill="#606060"/>
</svg>
<div class="t" style="left:203.31px;top:46.78px;font-size:48.69px;font-weight:400;color:#FFFFFF;font-family:'Liberation Sans', sans-serif;transform:scaleX(0.9458);">3104 FRANKLINS WAY, HERNDON, VA 20171</div>
<div class="t" style="left:81.1px;top:228.83px;font-size:105.81px;font-weight:700;color:#231F20;font-family:'Liberation Sans', sans-serif;">NEIGHBORHOOD EATS</div>
<div class="t" style="left:81.06px;top:353.15px;font-size:44px;font-weight:400;color:#231F20;font-family:'Liberation Sans', sans-serif;transform:scaleX(1.0424);">This home is located near <b style="color:#0C7C82">147</b> moderately priced restaurants and</div>
<div class="t" style="left:80.91px;top:399.05px;font-size:44px;font-weight:400;color:#231F20;font-family:'Liberation Sans', sans-serif;transform:scaleX(1.0290);">has an <b style="color:#0C7C82">above average</b> variety of cuisines.</div>
<div class="t" style="left:1611.41px;top:39.88px;font-size:67.01px;font-weight:400;color:#FFFFFF;font-family:'Liberation Sans', sans-serif;">FOOD</div>
<div class="t" style="left:1580.49px;top:100.68px;font-size:67.01px;font-weight:700;color:#FFFFFF;font-family:'Liberation Sans', sans-serif;transform:scaleX(0.9274);">REPORT</div>
<div class="t" style="left:406px;top:835.04px;font-size:38.23px;font-weight:400;color:#9B9B9B;font-family:'Liberation Sans', sans-serif;">WITHIN 5 MILES</div>
<div class="t" style="left:222.58px;top:964.75px;font-size:55.04px;font-weight:400;color:#0F7C80;font-family:'Liberation Sans', sans-serif;transform:scaleX(0.9172);">$</div>
<div class="t" style="left:222.51px;top:1055.4px;font-size:54.86px;font-weight:400;color:#CC0000;font-family:'Liberation Sans', sans-serif;transform:scaleX(0.9898);">$$</div>
<div class="t" style="left:222.52px;top:1144.9px;font-size:56.19px;font-weight:400;color:#7B0000;font-family:'Liberation Sans', sans-serif;transform:scaleX(0.9783);">$$$</div>
<div class="t" style="left:222.5px;top:1236.6px;font-size:55.58px;font-weight:400;color:#333F40;font-family:'Liberation Sans', sans-serif;">$$$$</div>
<div class="t" style="left:802.75px;top:966.4px;font-size:52.21px;font-weight:400;color:#FFFFFF;font-family:'Liberation Sans', sans-serif;transform:scaleX(1.0741);">86</div>
<div class="t" style="left:710.71px;top:1059.2px;font-size:49.71px;font-weight:400;color:#FFFFFF;font-family:'Liberation Sans', sans-serif;transform:scaleX(1.0957);">6</div>
<div class="t" style="left:509.36px;top:1148.5px;font-size:51.65px;font-weight:400;color:#FFFFFF;font-family:'Liberation Sans', sans-serif;transform:scaleX(1.2130);">6</div>
<div class="t" style="left:509.75px;top:1238px;font-size:52.86px;font-weight:400;color:#FFFFFF;font-family:'Liberation Sans', sans-serif;transform:scaleX(1.0833);">2</div>
<div class="t" style="left:1536.02px;top:724.08px;font-size:58.14px;font-weight:700;color:#0C7C82;font-family:'Liberation Sans', sans-serif;transform:scaleX(1.0418);">GOOD EATS</div>
<div class="t" style="left:1571.16px;top:786.48px;font-size:37.35px;font-weight:700;color:#231F20;font-family:'Liberation Sans', sans-serif;transform:scaleX(1.0703);">BY CATEGORY</div>
<div class="t" style="left:1378.82px;top:869.14px;font-size:34.45px;font-weight:400;color:#2A3E3F;font-family:'Liberation Sans', sans-serif;transform:scaleX(0.9932);">FAST FOOD</div>
<div class="t" style="left:1381.8px;top:923.64px;font-size:34.45px;font-weight:400;color:#2A3E3F;font-family:'Liberation Sans', sans-serif;transform:scaleX(0.9726);">AMERICAN</div>
<div class="t" style="left:1381.8px;top:978.14px;font-size:34.45px;font-weight:400;color:#2A3E3F;font-family:'Liberation Sans', sans-serif;transform:scaleX(0.9663);">ASIAN</div>
<div class="t" style="left:1378.86px;top:1032.64px;font-size:34.45px;font-weight:400;color:#2A3E3F;font-family:'Liberation Sans', sans-serif;transform:scaleX(0.9798);">PIZZA</div>
<div class="t" style="left:1378.79px;top:1087.14px;font-size:34.45px;font-weight:400;color:#2A3E3F;font-family:'Liberation Sans', sans-serif;">MEXICAN</div>
<div class="t" style="left:1378.85px;top:1141.64px;font-size:34.45px;font-weight:400;color:#2A3E3F;font-family:'Liberation Sans', sans-serif;transform:scaleX(0.9825);">INTERNATIONAL</div>
<div class="t" style="left:1379.84px;top:1196.14px;font-size:34.45px;font-weight:400;color:#2A3E3F;font-family:'Liberation Sans', sans-serif;transform:scaleX(0.9776);">SEAFOOD</div>
<div class="t" style="left:1378.8px;top:1250.64px;font-size:34.45px;font-weight:400;color:#2A3E3F;font-family:'Liberation Sans', sans-serif;">ITALIAN</div>
<div class="t" style="left:1378.95px;top:1305.14px;font-size:34.45px;font-weight:400;color:#2A3E3F;font-family:'Liberation Sans', sans-serif;transform:scaleX(0.9495);">DELIS</div>
<div class="t" style="left:1379.88px;top:1359.64px;font-size:34.45px;font-weight:400;color:#2A3E3F;font-family:'Liberation Sans', sans-serif;transform:scaleX(0.9581);">OTHER</div>
<div class="t" style="left:1907.93px;top:869.14px;font-size:34.45px;font-weight:400;color:#2A3E3F;font-family:'Liberation Sans', sans-serif;transform:scaleX(1.1343);">28</div>
<div class="t" style="left:1908.88px;top:923.64px;font-size:34.45px;font-weight:400;color:#2A3E3F;font-family:'Liberation Sans', sans-serif;transform:scaleX(1.1086);">23</div>
<div class="t" style="left:1931.9px;top:978.14px;font-size:34.45px;font-weight:400;color:#2A3E3F;font-family:'Liberation Sans', sans-serif;">9</div>
<div class="t" style="left:1931.9px;top:1032.64px;font-size:34.45px;font-weight:400;color:#2A3E3F;font-family:'Liberation Sans', sans-serif;">2</div>
<div class="t" style="left:1929.76px;top:1196.14px;font-size:34.45px;font-weight:400;color:#2A3E3F;font-family:'Liberation Sans', sans-serif;transform:scaleX(1.1188);">9</div>
<div class="t" style="left:1929.76px;top:1250.64px;font-size:34.45px;font-weight:400;color:#2A3E3F;font-family:'Liberation Sans', sans-serif;transform:scaleX(1.1188);">8</div>
<div class="t" style="left:1928.86px;top:1305.14px;font-size:34.45px;font-weight:400;color:#2A3E3F;font-family:'Liberation Sans', sans-serif;transform:scaleX(1.1688);">6</div>
<div class="t" style="left:1931.9px;top:1359.64px;font-size:34.45px;font-weight:400;color:#2A3E3F;font-family:'Liberation Sans', sans-serif;">6</div>
<div class="t" style="left:911.7px;top:1447.72px;font-size:28.92px;font-weight:400;color:#231F20;font-family:'Liberation Sans', sans-serif;transform:scaleX(1.0479);"><b>DISCLAIMER:</b> The information in this report is from third-party sources and its</div>
<div class="t" style="left:912.75px;top:1478.22px;font-size:28.92px;font-weight:400;color:#231F20;font-family:'Liberation Sans', sans-serif;transform:scaleX(1.0541);">accuracy cannot be guaranteed.</div>
<div class="t" style="left:220.4px;top:1449.85px;font-size:47.2px;font-weight:400;color:#555555;font-family:'Liberation Sans', sans-serif;">R</div>
<div class="t" style="left:253.99px;top:1449.85px;font-size:47.2px;font-weight:400;color:#555555;font-family:'Liberation Sans', sans-serif;transform:scaleX(1.1071);">eports</div>
<div style="position:absolute;left:0;top:1454px;width:249.8px;height:82px;background:#606060"></div>
<svg width="2048" height="1536" viewBox="0 0 2048 1536"><polygon fill="#2A3E3F" points="1923.70,983.60 1927.61,983.60 1927.61,1007.30 1923.70,1007.30 1923.70,988.34 1919.67,991.49 1918.39,989.52"/><polygon fill="#2A3E3F" points="1923.70,1038.10 1927.61,1038.10 1927.61,1061.80 1923.70,1061.80 1923.70,1042.84 1919.67,1045.99 1918.39,1044.02"/><polygon fill="#2A3E3F" points="1932.20,1092.60 1936.11,1092.60 1936.11,1116.30 1932.20,1116.30 1932.20,1097.34 1928.17,1100.49 1926.89,1098.52"/><polygon fill="#2A3E3F" points="1944.90,1092.60 1948.81,1092.60 1948.81,1116.30 1944.90,1116.30 1944.90,1097.34 1940.87,1100.49 1939.59,1098.52"/><polygon fill="#2A3E3F" points="1932.20,1147.10 1936.11,1147.10 1936.11,1170.80 1932.20,1170.80 1932.20,1151.84 1928.17,1154.99 1926.89,1153.02"/><polygon fill="#2A3E3F" points="1944.90,1147.10 1948.81,1147.10 1948.81,1170.80 1944.90,1170.80 1944.90,1151.84 1940.87,1154.99 1939.59,1153.02"/><polygon fill="#2A3E3F" points="1923.70,1365.10 1927.61,1365.10 1927.61,1388.80 1923.70,1388.80 1923.70,1369.84 1919.67,1372.99 1918.39,1371.02"/><polygon fill="#FFFFFF" points="752.10,1064.20 757.45,1064.20 757.45,1101.10 752.10,1101.10 752.10,1071.58 745.83,1076.49 743.83,1073.42"/></svg>
<div class="t" style="left:17px;top:1462px;font-size:56.07px;font-weight:700;color:#D9D9D9;font-family:'Liberation Serif', serif;">bright</div>
<div class="t" style="left:176.4px;top:1485.01px;font-size:28.34px;font-weight:400;color:#DDDDDD;font-family:'Liberation Sans', sans-serif;">MLS</div>
<svg width="2048" height="1536" viewBox="0 0 2048 1536" style="pointer-events:none"><path d="M154.2,1474 Q155.2,1482 163,1482.9 Q155.2,1484 154.2,1491.5 Q153.2,1484 145.4,1482.9 Q153.2,1482 154.2,1474 Z" fill="#E0522A"/><text x="166" y="1474" font-family="Liberation Sans" font-size="8" font-weight="700" fill="#DDDDDD">TM</text></svg>
</body></html>
